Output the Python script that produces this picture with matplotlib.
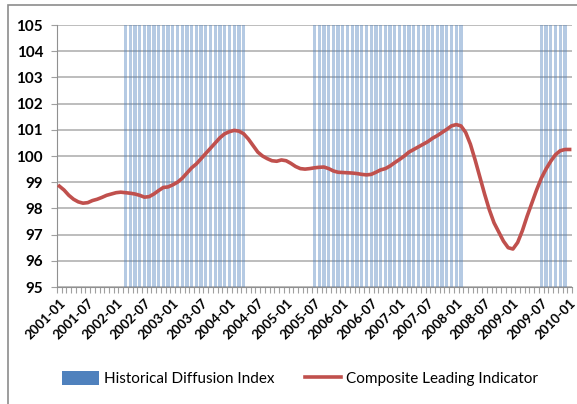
import matplotlib
matplotlib.use("Agg")
import matplotlib.pyplot as plt
from matplotlib.patches import Rectangle, Patch
from matplotlib.lines import Line2D
from matplotlib.ticker import FixedLocator
import numpy as np

plt.rcParams['font.family'] = ['Lato', 'DejaVu Sans']

# months 2001-01 .. 2010-01
months = []
for yr in range(2001, 2011):
    for m in range(1, 13):
        months.append("%d-%02d" % (yr, m))
months = months[:109]

# composite leading indicator
cli = [98.85, 98.70, 98.50, 98.35, 98.25, 98.20, 98.22, 98.30, 98.35, 98.42,
       98.50, 98.55, 98.60, 98.62, 98.60, 98.58, 98.55, 98.50, 98.43, 98.45,
       98.55, 98.68, 98.80, 98.82, 98.90, 99.00, 99.15, 99.35, 99.55, 99.70,
       99.90, 100.10, 100.30, 100.50, 100.70, 100.85, 100.93, 100.98, 100.95, 100.85,
       100.65, 100.40, 100.15, 100.00, 99.90, 99.82, 99.80, 99.85, 99.82, 99.72,
       99.60, 99.52, 99.50, 99.52, 99.55, 99.57, 99.58, 99.52, 99.43, 99.38,
       99.37, 99.36, 99.35, 99.33, 99.30, 99.28, 99.30, 99.38, 99.47, 99.52,
       99.62, 99.75, 99.87, 100.00, 100.15, 100.25, 100.35, 100.45, 100.55, 100.68,
       100.78, 100.90, 101.02, 101.15, 101.20, 101.15, 100.90, 100.45, 99.85, 99.20,
       98.55, 97.95, 97.45, 97.10, 96.75, 96.50, 96.45, 96.70, 97.15, 97.70,
       98.20, 98.70, 99.15, 99.50, 99.80, 100.05, 100.20, 100.25, 100.25]

# historical diffusion index: months flagged (bar drawn to top of axis)
diff_on = list(range(14, 40)) + list(range(54, 86)) + list(range(102, 108))
diffusion = [105 if i in diff_on else 0 for i in range(len(months))]

x = np.arange(len(months))

fig = plt.figure(figsize=(5.77, 4.04), dpi=100)
ax = fig.add_axes([0.0988, 0.2896, 0.8925, 0.6484])

ax.set_axisbelow(True)
ax.grid(axis='y', color='#b8b8b8', lw=1.3)

ax.bar(x, diffusion, width=0.7, color='#4F81BD', alpha=0.42, zorder=2)
ax.plot(x, cli, color='#C0504D', lw=2.6, zorder=3)

ax.set_ylim(95, 105)
ax.set_yticks(np.arange(95, 106, 1))
ax.set_xlim(-0.5, len(months) - 0.5)

ax.set_xticks(x[::6])
ax.set_xticklabels(months[::6], rotation=45, ha='right', rotation_mode='anchor',
                   fontsize=9.5, fontweight='bold')
ax.xaxis.set_minor_locator(FixedLocator(np.arange(-0.5, len(months), 1)))
ax.tick_params(axis='x', which='major', length=0, pad=7)
ax.tick_params(axis='x', which='minor', length=4, color='#a0a0a0', width=0.8)
ax.tick_params(axis='y', length=4, color='#a0a0a0', width=0.8, pad=6)
for lab in ax.get_yticklabels():
    lab.set_fontsize(11)
    lab.set_fontweight('bold')

for s in ['top', 'right']:
    ax.spines[s].set_visible(False)
ax.spines['left'].set_color('#909090')
ax.spines['bottom'].set_color('#909090')

handles = [Patch(facecolor='#4F81BD', edgecolor='none'),
           Line2D([], [], color='#C0504D', lw=2.6)]
fig.legend(handles, ['Historical Diffusion Index', 'Composite Leading Indicator'],
           loc='center', bbox_to_anchor=(0.52, 0.062), ncol=2, frameon=False,
           fontsize=11, handlelength=2.4, handleheight=1.0, columnspacing=2.0,
           handletextpad=0.3)

# chart area border
fig.patches.append(Rectangle((8 / 577, -0.1), 1.2, 1.1 - 5 / 404,
                             transform=fig.transFigure, fill=False,
                             edgecolor='#8c8c8c', lw=1.2))

fig.savefig("out.png", dpi=100)
